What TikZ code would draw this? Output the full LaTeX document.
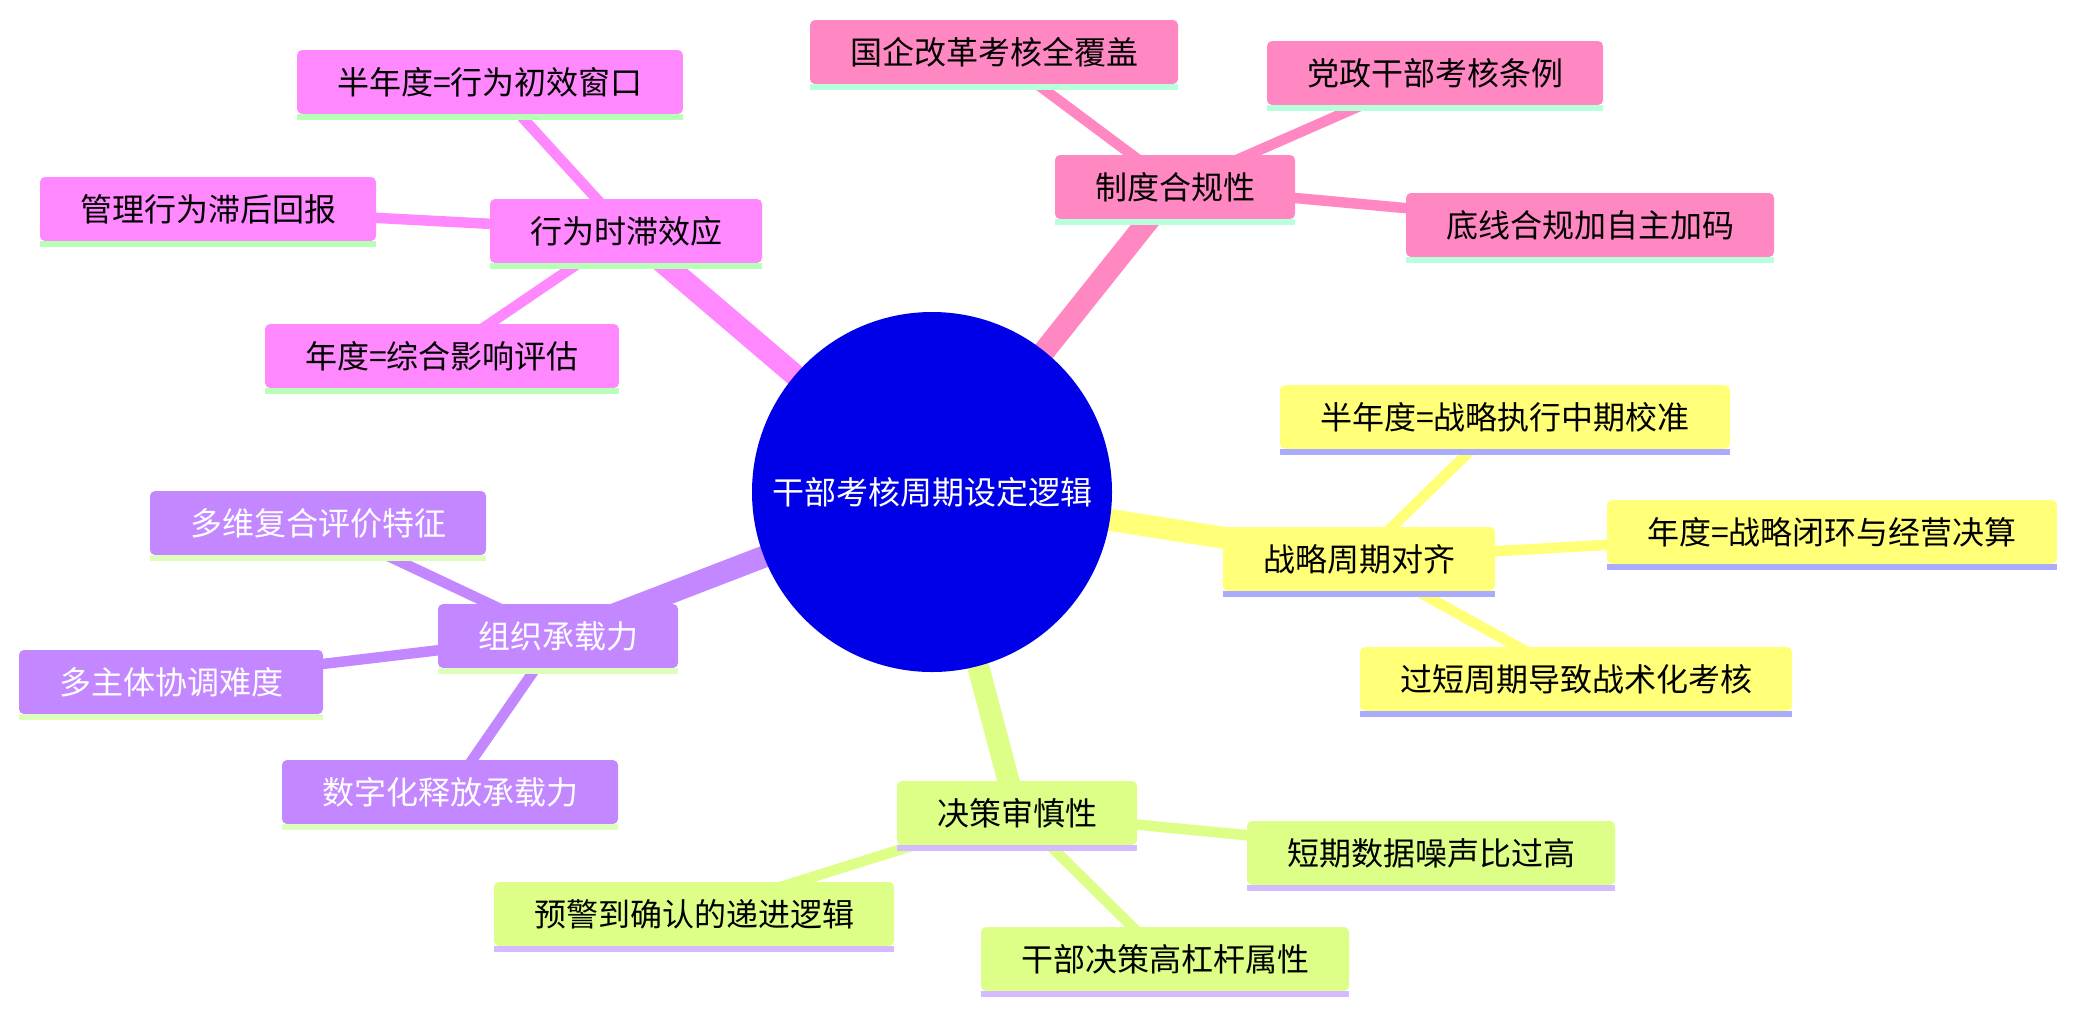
\documentclass[tikz,border=0pt]{standalone}
\usepackage{fontspec}
\setmainfont{Noto Sans CJK SC}
\pgfdeclarelayer{bg}
\pgfsetlayers{bg,main}
\definecolor{cpink}{HTML}{FF88C3}
\definecolor{cpinkb}{HTML}{B8FFDC}
\definecolor{cmag}{HTML}{FF88FF}
\definecolor{cmagb}{HTML}{B8FFB8}
\definecolor{cyel}{HTML}{FFFF78}
\definecolor{cyelb}{HTML}{AAAAFF}
\definecolor{cpur}{HTML}{C388FF}
\definecolor{cpurb}{HTML}{DDFFBB}
\definecolor{cgrn}{HTML}{DDFF88}
\definecolor{cgrnb}{HTML}{D4BBFF}
\definecolor{croot}{HTML}{0000E8}
\tikzset{
  box/.style={rectangle, rounded corners=2.5pt, minimum height=32pt, inner xsep=20pt, inner ysep=0pt,
    font=\fontsize{16pt}{19pt}\selectfont, text=black},
  pinkbox/.style={box, fill=cpink},
  magbox/.style={box, fill=cmag},
  yelbox/.style={box, fill=cyel},
  purbox/.style={box, fill=cpur, text=white},
  grnbox/.style={box, fill=cgrn},
  rootnode/.style={circle, fill=croot, minimum size=180pt, inner sep=0pt, text=white,
    font=\fontsize{16pt}{19pt}\selectfont},
  medge/.style={line width=11pt},
  cedge/.style={line width=5.25pt},
}
\begin{document}
\begin{tikzpicture}[x=0.5pt, y=-0.5pt]
\useasboundingbox (0,0) rectangle (2076,1014);

% root
\node[rootnode] (root) at (932,492) {干部考核周期设定逻辑};

% pink section
\node[pinkbox] (p0) at (1175,187) {制度合规性};
\node[pinkbox] (p1) at (994,52) {国企改革考核全覆盖};
\node[pinkbox] (p2) at (1435,73) {党政干部考核条例};
\node[pinkbox] (p3) at (1590,225) {底线合规加自主加码};

% magenta section
\node[magbox] (m0) at (626,231) {行为时滞效应};
\node[magbox] (m1) at (490,82) {半年度=行为初效窗口};
\node[magbox] (m2) at (208,209) {管理行为滞后回报};
\node[magbox] (m3) at (442,356) {年度=综合影响评估};

% yellow section
\node[yelbox] (y0) at (1359,559) {战略周期对齐};
\node[yelbox] (y1) at (1505,417) {半年度=战略执行中期校准};
\node[yelbox] (y2) at (1832,532) {年度=战略闭环与经营决算};
\node[yelbox] (y3) at (1576,679) {过短周期导致战术化考核};

% purple section
\node[purbox] (u0) at (558,636) {组织承载力};
\node[purbox] (u1) at (318,523) {多维复合评价特征};
\node[purbox] (u2) at (171,682) {多主体协调难度};
\node[purbox] (u3) at (450,792) {数字化释放承载力};

% green section
\node[grnbox] (g0) at (1017,813) {决策审慎性};
\node[grnbox] (g1) at (1431,853) {短期数据噪声比过高};
\node[grnbox] (g2) at (694,914) {预警到确认的递进逻辑};
\node[grnbox] (g3) at (1165,959) {干部决策高杠杆属性};

% bands under boxes
\foreach \n/\c in {p0/cpinkb,p1/cpinkb,p2/cpinkb,p3/cpinkb,
                   m0/cmagb,m1/cmagb,m2/cmagb,m3/cmagb,
                   y0/cyelb,y1/cyelb,y2/cyelb,y3/cyelb,
                   u0/cpurb,u1/cpurb,u2/cpurb,u3/cpurb,
                   g0/cgrnb,g1/cgrnb,g2/cgrnb,g3/cgrnb}
  \fill[\c] (\n.south west) rectangle ([yshift=-3pt]\n.south east);

% edges
\begin{pgfonlayer}{bg}
\fill[white] (0,0) rectangle (2076,1014);
\draw[medge, cpink] (root.center) -- (p0.center);
\draw[medge, cmag] (root.center) -- (m0.center);
\draw[medge, cyel] (root.center) -- (y0.center);
\draw[medge, cpur] (root.center) -- (u0.center);
\draw[medge, cgrn] (root.center) -- (g0.center);
\foreach \c in {1,2,3} {
  \draw[cedge, cpink] (p0.center) -- (p\c.center);
  \draw[cedge, cmag] (m0.center) -- (m\c.center);
  \draw[cedge, cyel] (y0.center) -- (y\c.center);
  \draw[cedge, cpur] (u0.center) -- (u\c.center);
  \draw[cedge, cgrn] (g0.center) -- (g\c.center);
}
\end{pgfonlayer}
\end{tikzpicture}
\end{document}
